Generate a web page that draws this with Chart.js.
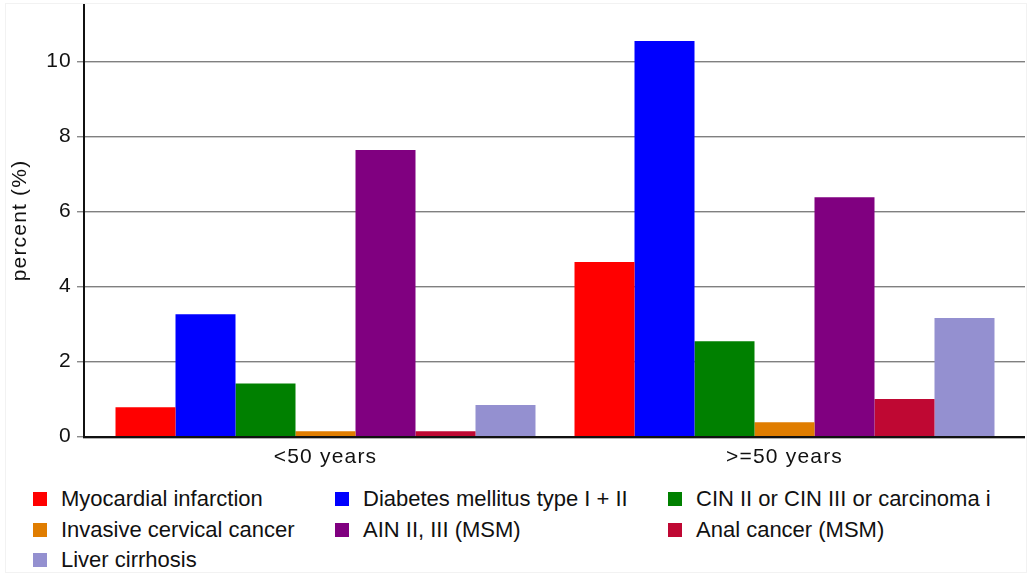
<!DOCTYPE html>
<html>
<head>
<meta charset="utf-8">
<script src="https://cdn.jsdelivr.net/npm/chart.js@4.4.1/dist/chart.umd.min.js"></script>
<style>
  html, body { margin: 0; padding: 0; background: #fff; }
  body { width: 1028px; height: 574px; position: relative; overflow: hidden;
         font-family: "Liberation Sans", Arial, sans-serif; }
  #frame { position: absolute; left: 5px; top: 3px; width: 1020px; height: 568px;
           border: 1px solid #f2f2f2; }
  #wrap { position: absolute; left: 0; top: 0; width: 1028px; height: 480px; }
  #legend { position: absolute; left: 33px; top: 484px; display: grid;
            grid-template-columns: 302px 333px 340px; }
  .item { display: flex; align-items: center; height: 30.5px; font-size: 22px; color: #111;
          white-space: nowrap; overflow: hidden; }
  .box { width: 14px; height: 14px; margin-right: 14px; flex: none; }
</style>
</head>
<body>
<div id="frame"></div>
<div id="wrap"><canvas id="c" width="1028" height="480"></canvas></div>
<div id="legend"></div>
<script>
// Age groups and percentages per condition
const categories = ["<50 years", ">=50 years"];
const seriesNames = [
  "Myocardial infarction",
  "Diabetes mellitus type I + II",
  "CIN II or CIN III or carcinoma i",
  "Invasive cervical cancer",
  "AIN II, III (MSM)",
  "Anal cancer (MSM)",
  "Liver cirrhosis"
];
const myocardialInfarction = [0.77, 4.64];
const diabetes = [3.25, 10.54];
const cinCarcinoma = [1.40, 2.53];
const invasiveCervical = [0.13, 0.37];
const ainMsm = [7.63, 6.37];
const analCancerMsm = [0.13, 0.99];
const liverCirrhosis = [0.83, 3.15];
const yTicks = [0, 2, 4, 6, 8, 10];

const seriesValues = [myocardialInfarction, diabetes, cinCarcinoma, invasiveCervical,
                      ainMsm, analCancerMsm, liverCirrhosis];
const colors = ["#ff0000", "#0000ff", "#008000", "#e07d00", "#800080", "#bf0833", "#9490d0"];

const FONT = "'Liberation Sans', Arial, sans-serif";

// Slightly wider letter spacing for the axis text
const spacingPlugin = {
  id: "textSpacing",
  beforeDraw(chart) { chart.ctx.letterSpacing = "1.2px"; },
  afterDraw(chart) { chart.ctx.letterSpacing = "0px"; }
};

// Grid lines and axis lines extend past the bar area on both sides
const axisPlugin = {
  id: "axisLines",
  beforeDatasetsDraw(chart) {
    const ctx = chart.ctx;
    const y = chart.scales.y;
    const left = 84, right = 1025;
    ctx.save();
    yTicks.forEach(v => {
      const py = Math.round(y.getPixelForValue(v));
      if (v !== 0) {
        ctx.fillStyle = "#808080";
        ctx.fillRect(left, py, right - left, 1);
        ctx.fillStyle = "#cccccc";
        ctx.fillRect(left, py + 1, right - left, 1);
      }
      ctx.fillStyle = "#8a8a8a";
      ctx.fillRect(77, py, left - 77, 1);
      ctx.fillStyle = "#cfcfcf";
      ctx.fillRect(77, py + 1, left - 77, 1);
    });
    ctx.restore();
  },
  afterDatasetsDraw(chart) {
    const ctx = chart.ctx;
    const y = chart.scales.y;
    const base = Math.round(y.getPixelForValue(0));
    ctx.save();
    ctx.fillStyle = "#111";
    ctx.fillRect(83, 4, 2, base - 4 + 2);
    ctx.fillRect(83, base, 1025 - 83, 2);
    ctx.fillStyle = "#b0b0b0";
    ctx.fillRect(83, base + 2, 1025 - 83, 1);
    ctx.restore();
  }
};

const chart = new Chart(document.getElementById("c"), {
  type: "bar",
  data: {
    labels: categories,
    datasets: seriesNames.map((name, i) => ({
      label: name,
      data: seriesValues[i],
      backgroundColor: colors[i],
      borderWidth: 0,
      categoryPercentage: 0.915,
      barPercentage: 1.0
    }))
  },
  options: {
    responsive: false,
    animation: false,
    layout: { padding: { top: 5, right: 14, left: 0, bottom: 0 } },
    plugins: { legend: { display: false }, tooltip: { enabled: false } },
    scales: {
      x: {
        grid: { display: false, drawTicks: false },
        border: { display: false },
        ticks: { color: "#111", font: { family: FONT, size: 21 }, padding: 9 },
        afterFit(scale) {
          scale.height = 480 - 436;
          scale.paddingLeft = 0; scale.paddingRight = 0;
        }
      },
      y: {
        min: 0, max: 11.5,
        grid: { display: false, drawTicks: false },
        border: { display: false },
        afterBuildTicks(scale) { scale.ticks = yTicks.map(v => ({ value: v })); },
        ticks: { color: "#111", font: { family: FONT, size: 21 }, padding: 24 },
        title: { display: true, text: "percent (%)", color: "#111",
                 font: { family: FONT, size: 21 }, padding: { top: 8, bottom: 0 } },
        afterFit(scale) {
          scale.width = 96;
          scale.paddingTop = 0; scale.paddingBottom = 0;
        }
      }
    }
  },
  plugins: [spacingPlugin, axisPlugin]
});

// Three-column legend built from the chart's datasets
const legend = document.getElementById("legend");
chart.data.datasets.forEach(ds => {
  const item = document.createElement("div");
  item.className = "item";
  const box = document.createElement("span");
  box.className = "box";
  box.style.background = ds.backgroundColor;
  const txt = document.createElement("span");
  txt.textContent = ds.label;
  item.appendChild(box);
  item.appendChild(txt);
  legend.appendChild(item);
});
</script>
</body>
</html>
